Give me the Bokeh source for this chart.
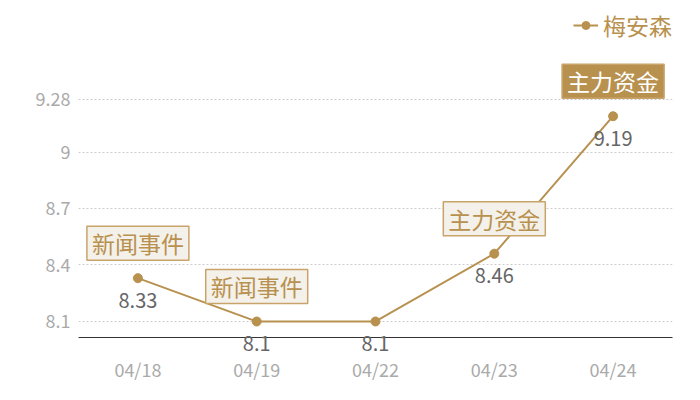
from bokeh.plotting import figure
from bokeh.models import ColumnDataSource, FixedTicker, Range1d, Legend, LegendItem
from bokeh.embed import file_html
from bokeh.resources import INLINE
from bokeh.core.properties import value

dates = ["04/18", "04/19", "04/22", "04/23", "04/24"]
prices = [8.33, 8.1, 8.1, 8.46, 9.19]
events = ["新闻事件", "新闻事件", "", "主力资金", "主力资金"]
highlight = [False, False, False, False, True]
y_ticks = [8.1, 8.4, 8.7, 9, 9.28]
series_name = "梅安森"

GOLD = "#b8914f"
FONT = "Noto Sans CJK SC"

src = ColumnDataSource(dict(x=dates, y=prices, lbl=[f"{v:g}" for v in prices]))

ex, ey, et, efill, etext = [], [], [], [], []
for d, v, e, h in zip(dates, prices, events, highlight):
    if e:
        ex.append(d); ey.append(v); et.append(e)
        efill.append(GOLD if h else "#f4f0ea")
        etext.append("#ffffff" if h else GOLD)
esrc = ColumnDataSource(dict(x=ex, y=ey, t=et, fill=efill, tc=etext))

p = figure(width=684, height=384, x_range=dates, y_range=Range1d(8.015, 9.762),
           output_backend="svg", toolbar_location=None,
           min_border_left=78, min_border_right=12, min_border_top=8, min_border_bottom=46)
p.outline_line_color = None
p.background_fill_color = "white"

r_line = p.line("x", "y", source=src, line_color=GOLD, line_width=2)
r_pts = p.scatter("x", "y", source=src, size=9, fill_color=GOLD, line_color=GOLD)

p.text("x", "y", text="lbl", source=src, y_offset=22, text_align="center",
       text_baseline="middle", text_color="#666666", text_font=value(FONT),
       text_font_size="20px", level="overlay")

p.text("x", "y", text="t", source=esrc, y_offset=-35, text_align="center",
       text_baseline="middle", text_color="tc", text_font=value(FONT),
       text_font_size="23px", text_line_height=1.0, background_fill_color="fill",
       border_line_color="#c9a46a", border_line_width=1.5, padding=(5, 0))

p.yaxis.ticker = FixedTicker(ticks=y_ticks)
p.yaxis.axis_line_color = None
p.yaxis.major_tick_line_color = None
p.yaxis.major_tick_out = 0
p.yaxis.minor_tick_line_color = None
p.yaxis.minor_tick_out = 0
p.yaxis.major_label_text_color = "#aaaaaa"
p.yaxis.major_label_text_font = FONT
p.yaxis.major_label_text_font_size = "18px"
p.yaxis.major_label_standoff = 8

p.xaxis.axis_line_color = "#333333"
p.xaxis.axis_line_width = 1
p.xaxis.major_tick_line_color = None
p.xaxis.major_tick_out = 0
p.xaxis.minor_tick_line_color = None
p.xaxis.minor_tick_out = 0
p.xaxis.major_label_text_color = "#aaaaaa"
p.xaxis.major_label_text_font = FONT
p.xaxis.major_label_text_font_size = "18px"
p.xaxis.major_label_standoff = 18

p.xgrid.grid_line_color = None
p.ygrid.grid_line_color = "#cccccc"
p.ygrid.grid_line_dash = "2 2"

legend = Legend(items=[LegendItem(label=series_name, renderers=[r_line, r_pts])],
                location="top_right", orientation="horizontal",
                label_text_color=GOLD, label_text_font=FONT, label_text_font_size="23px",
                glyph_width=25, label_standoff=5, padding=0, margin=0,
                border_line_color=None, background_fill_alpha=0)
p.add_layout(legend)

open("out.html", "w").write(file_html(p, INLINE))
